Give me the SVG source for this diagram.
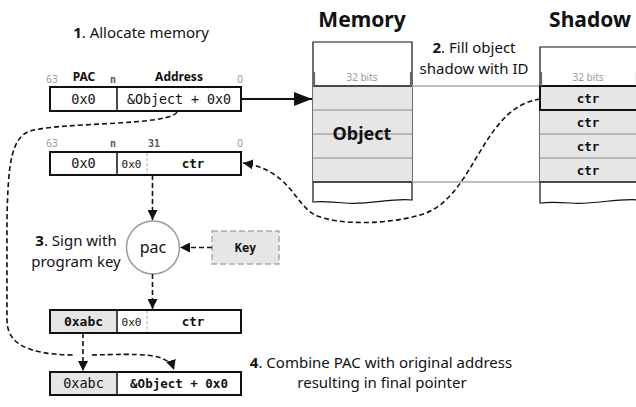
<svg xmlns="http://www.w3.org/2000/svg" width="636" height="407" viewBox="0 0 636 407">
  <style>
    .sans { font-family: "Noto Sans", "Open Sans", sans-serif; fill: #111; }
    .mono { font-family: "DejaVu Sans Mono", "Liberation Mono", monospace; fill: #111; }
    .reg { fill: #fff; stroke: #111; stroke-width: 2; }
    .pacfill { fill: #e6e6e6; stroke: none; }
    .div { stroke: #111; stroke-width: 1.5; }
    .subdiv { stroke: #bbb; stroke-width: 1.2; stroke-dasharray: 3 2; }
    .bit { font-family: "Noto Sans", sans-serif; font-size: 10px; fill: #9a9a9a; }
    .bitb { font-family: "DejaVu Sans Mono", monospace; font-size: 10px; font-weight: bold; fill: #555; }
    .fld { font-family: "Noto Sans", sans-serif; font-size: 12px; font-weight: bold; fill: #111; }
    .cell { fill: #e6e6e6; }
    .sep { stroke: #aaa; stroke-width: 1.5; }
    .dash { fill: none; stroke: #111; stroke-width: 1.6; stroke-dasharray: 5 3; }
    .solid { fill: none; stroke: #111; stroke-width: 2; }
  </style>
  <defs>
    <marker id="head" markerUnits="userSpaceOnUse" markerWidth="10" markerHeight="10" refX="10" refY="5" orient="auto">
      <path d="M0,0 L10,5 L0,10 z" fill="#111"/>
    </marker>
    <marker id="bighead" markerUnits="userSpaceOnUse" markerWidth="18" markerHeight="14" refX="18" refY="7" orient="auto">
      <path d="M0,0 L18,7 L0,14 z" fill="#111"/>
    </marker>
  </defs>

  <!-- step captions -->
  <g id="captions">
    <text class="sans" x="141" y="38" font-size="15" text-anchor="middle"><tspan font-weight="bold">1</tspan>. Allocate memory</text>
    <text class="sans" x="474" y="53" font-size="15" text-anchor="middle"><tspan font-weight="bold">2</tspan>. Fill object</text>
    <text class="sans" x="474" y="74" font-size="15" text-anchor="middle">shadow with ID</text>
    <text class="sans" x="76" y="246" font-size="15" text-anchor="middle"><tspan font-weight="bold">3</tspan>. Sign with</text>
    <text class="sans" x="76" y="267" font-size="15" text-anchor="middle">program key</text>
    <text class="sans" x="381" y="368" font-size="15" text-anchor="middle"><tspan font-weight="bold">4</tspan>. Combine PAC with original address</text>
    <text class="sans" x="382" y="388" font-size="15" text-anchor="middle">resulting in final pointer</text>
    <text class="sans" x="362" y="27" font-size="21" font-weight="bold" text-anchor="middle">Memory</text>
    <text class="sans" x="590" y="27" font-size="21" font-weight="bold" text-anchor="middle">Shadow</text>
  </g>

  <!-- allocated pointer -->
  <g id="reg-alloc">
    <text class="bit" x="52" y="83" text-anchor="middle">63</text>
    <text class="fld" x="84" y="81" text-anchor="middle">PAC</text>
    <text class="bitb" x="113" y="83" text-anchor="middle">n</text>
    <text class="fld" x="179" y="81" text-anchor="middle">Address</text>
    <text class="bit" x="240" y="83" text-anchor="middle">0</text>
    <rect class="reg" x="50" y="87" width="191" height="24"/>
    <line class="div" x1="117" y1="87" x2="117" y2="111"/>
    <text class="mono" x="83.5" y="103.5" font-size="13.5" text-anchor="middle">0x0</text>
    <text class="mono" x="179" y="103.5" font-size="13.3" text-anchor="middle">&amp;Object + 0x0</text>
  </g>

  <!-- memory column -->
  <g id="memory">
    <path d="M313,202 L313,42 L412,42 L412,200 C390,198 370,205 345,203 C330,202 320,201 313,202 z" fill="#fff" stroke="#111" stroke-width="1.2"/>
    <rect class="cell" x="313" y="86" width="99" height="96"/>
    <line class="sep" x1="313" y1="110" x2="412" y2="110"/>
    <line class="sep" x1="313" y1="134" x2="412" y2="134"/>
    <line class="sep" x1="313" y1="158" x2="412" y2="158"/>
    <line stroke="#111" stroke-width="1.5" x1="313" y1="86" x2="412" y2="86"/>
    <line stroke="#111" stroke-width="1.5" x1="313" y1="182" x2="412" y2="182"/>
    <line stroke="#666" stroke-width="2.2" x1="314" y1="72" x2="314" y2="86"/>
    <line stroke="#666" stroke-width="2.2" x1="411" y1="72" x2="411" y2="86"/>
    <text class="bit" x="362" y="81" text-anchor="middle">32 bits</text>
    <text class="sans" x="362" y="140" font-size="18" font-weight="bold" text-anchor="middle">Object</text>
  </g>

  <!-- guide lines from memory to shadow -->
  <g id="guides">
    <line class="sep" x1="412" y1="86" x2="540" y2="86"/>
    <line class="sep" x1="412" y1="182" x2="540" y2="182"/>
  </g>

  <!-- shadow column -->
  <g id="shadow">
    <path d="M540,203 L540,47 L640,47 L640,200 C615,198 595,205 570,203 C555,202 547,202 540,203 z" fill="#fff" stroke="#111" stroke-width="1.2"/>
    <rect class="cell" x="540" y="86" width="100" height="96"/>
    <line class="sep" x1="540" y1="134" x2="640" y2="134"/>
    <line class="sep" x1="540" y1="158" x2="640" y2="158"/>
    <line stroke="#111" stroke-width="1.5" x1="540" y1="182" x2="640" y2="182"/>
    <rect x="540" y="86" width="100" height="24" fill="none" stroke="#111" stroke-width="2"/>
    <line stroke="#666" stroke-width="2.2" x1="541" y1="72" x2="541" y2="86"/>
    <line stroke="#666" stroke-width="2.2" x1="637" y1="72" x2="637" y2="86"/>
    <text class="bit" x="588" y="81" text-anchor="middle">32 bits</text>
    <text class="mono" x="588" y="102.5" font-size="12.5" font-weight="bold" text-anchor="middle">ctr</text>
    <text class="mono" x="588" y="126.5" font-size="12.5" font-weight="bold" text-anchor="middle">ctr</text>
    <text class="mono" x="588" y="150.5" font-size="12.5" font-weight="bold" text-anchor="middle">ctr</text>
    <text class="mono" x="588" y="174.5" font-size="12.5" font-weight="bold" text-anchor="middle">ctr</text>
  </g>

  <!-- pointer carrying the counter -->
  <g id="reg-ctr">
    <text class="bit" x="52" y="147" text-anchor="middle">63</text>
    <text class="bitb" x="113" y="147" text-anchor="middle">n</text>
    <text class="bitb" x="154" y="147" text-anchor="middle">31</text>
    <text class="bit" x="240" y="147" text-anchor="middle">0</text>
    <rect class="reg" x="50" y="152" width="191" height="23"/>
    <line class="div" x1="117" y1="152" x2="117" y2="175"/>
    <line class="subdiv" x1="147" y1="153" x2="147" y2="174"/>
    <text class="mono" x="83.5" y="168" font-size="13.5" text-anchor="middle">0x0</text>
    <text class="mono" x="131.5" y="167.5" font-size="11" text-anchor="middle" fill="#333">0x0</text>
    <text class="mono" x="193" y="168" font-size="12.5" font-weight="bold" text-anchor="middle">ctr</text>
  </g>

  <!-- signing function -->
  <g id="pac">
    <circle cx="153" cy="247.5" r="26.5" fill="#fff" stroke="#999" stroke-width="1.5"/>
    <text class="sans" x="153" y="253" font-size="16" text-anchor="middle">pac</text>
  </g>

  <g id="key">
    <rect x="212" y="231" width="67" height="33" fill="#e6e6e6" stroke="#aaa" stroke-width="1.5" stroke-dasharray="6 3"/>
    <text class="mono" x="245.5" y="252" font-size="12" font-weight="bold" text-anchor="middle">Key</text>
  </g>

  <!-- signed pointer -->
  <g id="reg-signed">
    <rect class="reg" x="50" y="310" width="191" height="23"/>
    <rect class="pacfill" x="51" y="311" width="66" height="21"/>
    <line class="div" x1="117" y1="310" x2="117" y2="333"/>
    <line class="subdiv" x1="147" y1="311" x2="147" y2="332"/>
    <text class="mono" x="83.5" y="326" font-size="13" font-weight="bold" text-anchor="middle">0xabc</text>
    <text class="mono" x="131.5" y="325.5" font-size="11" text-anchor="middle" fill="#444">0x0</text>
    <text class="mono" x="193" y="326" font-size="12.5" font-weight="bold" text-anchor="middle">ctr</text>
  </g>

  <!-- final pointer -->
  <g id="reg-final">
    <rect class="reg" x="50" y="372" width="191" height="23"/>
    <rect class="pacfill" x="51" y="373" width="66" height="21"/>
    <line class="div" x1="117" y1="372" x2="117" y2="395"/>
    <text class="mono" x="83.5" y="388" font-size="13.5" text-anchor="middle">0xabc</text>
    <text class="mono" x="179" y="388" font-size="12.5" font-weight="bold" text-anchor="middle">&amp;Object + 0x0</text>
  </g>

  <!-- connectors -->
  <g id="connectors">
    <line class="solid" x1="241" y1="99" x2="312" y2="99" marker-end="url(#bighead)"/>
    <path class="dash" d="M540,99 C480,108 475,200 420,215 C390,224 340,226 315,215 C295,205 290,170 243,163" marker-end="url(#head)"/>
    <path class="dash" d="M177,112 C170,126 60,122 30,131 C12,138 8,160 7,220 L7,320 C7,350 40,356 90,355 C140,354 168,352 174,370" marker-end="url(#head)"/>
    <line class="dash" x1="152.5" y1="175" x2="152.5" y2="220" marker-end="url(#head)"/>
    <line class="dash" x1="212" y1="247.5" x2="180" y2="247.5" marker-end="url(#head)"/>
    <line class="dash" x1="152.5" y1="274" x2="152.5" y2="309" marker-end="url(#head)"/>
    <line stroke="#fff" stroke-width="18" x1="83" y1="348" x2="83" y2="362"/>
    <line class="dash" x1="83" y1="333" x2="83" y2="371" marker-end="url(#head)"/>
  </g>
</svg>
